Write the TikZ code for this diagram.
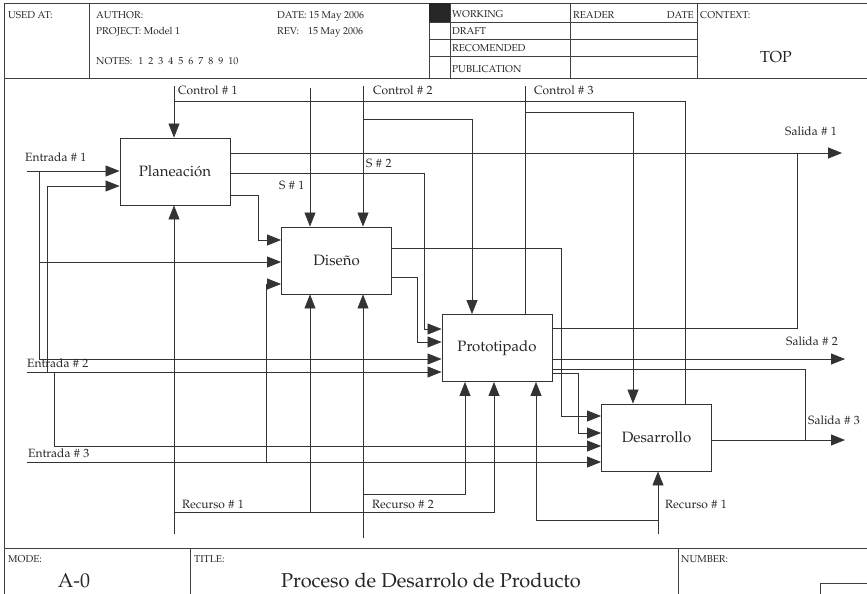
\documentclass[tikz,border=0pt]{standalone}
\usepackage[T1]{fontenc}
\usepackage{mathpazo}
\usetikzlibrary{arrows.meta}
\newcommand{\nro}{\hspace{3.5pt}\#\hspace{3.5pt}}
\begin{document}
\begin{tikzpicture}[x=1pt,y=-1pt,
  ln/.style={draw=black!80, line width=0.8pt},
  arr/.style={ln, -{Triangle[length=14pt,width=11pt]}},
  fr/.style={draw=black!75, line width=0.8pt},
  proc/.style={draw=black!80, line width=0.9pt, fill=white, minimum width=110pt, minimum height=67pt, font=\fontsize{15}{17}\selectfont, inner sep=0pt, text=black!85},
  hd/.style={font=\fontsize{10}{11}\selectfont, anchor=base west, inner sep=0pt, text=black!85},
  lb/.style={font=\fontsize{12}{14}\selectfont, anchor=base west, inner sep=0pt, text=black!85},
  big/.style={font=\fontsize{20}{23}\selectfont, anchor=base, inner sep=0pt, text=black!85},
]
\useasboundingbox (0,0) rectangle (867,594);
% frame
\draw[fr] (4,594) -- (4,3) -- (867,3);
\draw[fr] (4,78) -- (867,78);
\draw[fr] (4,548) -- (867,548);
\foreach \x in {89,429,450,570,697} \draw[fr] (\x,3) -- (\x,78);
\foreach \y in {22,39,56} \draw[fr] (429,\y) -- (697,\y);
\fill[black!85] (429,3) rectangle (450,22);
\foreach \x in {190,678} \draw[fr] (\x,548) -- (\x,594);
\draw[fr] (820,594) -- (820,583) -- (867,583);
% header text
\node[hd] (usedat) at (8,19) {USED AT:};
\node[hd] (author) at (96,19) {AUTHOR:};
\node[hd] (project) at (96,35) {PROJECT: Model 1};
\node[hd] (notes) at (96,65) {NOTES:\hspace{6pt}1\hspace{5pt}2\hspace{5pt}3\hspace{5pt}4\hspace{5pt}5\hspace{5pt}6\hspace{5pt}7\hspace{5pt}8\hspace{5pt}9\hspace{5pt}10};
\node[hd] (date) at (277,19) {DATE: 15 May 2006};
\node[hd] (rev) at (277,35) {REV:\hspace{9pt}15 May 2006};
\node[hd] (working) at (452,18) {WORKING};
\node[hd] (draft) at (452,35) {DRAFT};
\node[hd] (recom) at (452,52) {RECOMENDED};
\node[hd] (public) at (452,72) {PUBLICATION};
\node[hd] (reader) at (573,19) {READER};
\node[hd, anchor=base east] (rdate) at (694,19) {DATE};
\node[hd] (context) at (700,19) {CONTEXT:};
\node[big, font=\fontsize{16}{19}\selectfont] (top) at (776,63) {TOP};
% footer text
\node[hd] (mode) at (8,562) {MODE:};
\node[hd] (titlel) at (194,562) {TITLE:};
\node[hd] (number) at (681,562) {NUMBER:};
\node[big] (a0) at (74,587) {A-0};
\node[big] (title) at (431,587) {Proceso de Desarrolo de Producto};
% boxes
\node[proc] (P) at (175,171.5) {Planeación};
\node[proc] (D) at (336.5,260.5) {Diseño};
\node[proc] (T) at (497,348) {Prototipado};
\node[proc] (R) at (656.5,437.5) {Desarrollo};
% end points
\coordinate (e1) at (27,171);
\coordinate (e2) at (27,372);
\coordinate (e3) at (27,462);
\coordinate (c1) at (174,86);
\coordinate (c0) at (310,88);
\coordinate (c2) at (363,86);
\coordinate (c3) at (525,86);
\coordinate (m1) at (174,534);
\coordinate (m2) at (363,538);
\coordinate (m3) at (658,534);
\coordinate (s1) at (842,153);
\coordinate (s2) at (845,359);
\coordinate (s3) at (845,440);
% inputs
\draw[arr] (e1) -- (P.west |- e1);
\draw[arr] (39,171) -- (39,359) -- (T.west |- 0,359);
\draw[arr] (39,262) -- (D.west |- 0,262);
\draw[arr] (e2) -- (T.west |- e2);
\draw[arr] (47,372) -- (47,186) -- (P.west |- 0,186);
\draw[arr] (54,372) -- (54,446) -- (R.west |- 0,446);
\draw[arr] (e3) -- (R.west |- e3);
\draw[arr] (266,462) -- (266,284) -- (D.west |- 0,284);
% controls
\draw[arr] (c1) -- (c1 |- P.north);
\draw[ln] (174,101) -- (685,101) -- (R.north -| 685,0);
\draw[arr] (c0) -- (c0 |- D.north);
\draw[arr] (c2) -- (c2 |- D.north);
\draw[arr] (363,119) -- (472,119) -- (T.north -| 472,0);
\draw[ln] (c3) -- (c3 |- T.north);
\draw[arr] (525,112) -- (633,112) -- (R.north -| 633,0);
% outputs
\draw[arr] (P.east |- 0,153) -- (s1);
\draw[arr] (P.east |- 0,173) -- (424,173) -- (424,329) -- (T.west |- 0,329);
\draw[arr] (P.east |- 0,195) -- (258,195) -- (258,240) -- (D.west |- 0,240);
\draw[arr] (D.east |- 0,248) -- (561,248) -- (561,416) -- (R.west |- 0,416);
\draw[arr] (D.east |- 0,277) -- (417,277) -- (417,342) -- (T.west |- 0,342);
\draw[ln] (T.east |- 0,328) -- (797,328) -- (797,153);
\draw[arr] (T.east |- 0,359) -- (s2);
\draw[ln] (T.east |- 0,369) -- (805,369) -- (805,440);
\draw[arr] (T.east |- 0,373) -- (578,373) -- (578,433) -- (R.west |- 0,433);
\draw[arr] (R.east |- 0,440) -- (s3);
% mechanisms
\draw[arr] (m1) -- (m1 |- P.south);
\draw[arr] (174,512) -- (494,512) -- (T.south -| 494,0);
\draw[arr] (310,512) -- (D.south -| 310,0);
\draw[arr] (m2) -- (m2 |- D.south);
\draw[arr] (363,494) -- (465,494) -- (T.south -| 465,0);
\draw[arr] (m3) -- (m3 |- R.south);
\draw[arr] (658,520) -- (536,520) -- (T.south -| 536,0);
% labels
\node[lb] (le1) at (25,161) {Entrada\nro 1};
\node[lb] (le2) at (27,367) {Entrada\nro 2};
\node[lb] (le3) at (28,457) {Entrada\nro 3};
\node[lb] (lc1) at (178,94) {Control\nro 1};
\node[lb] (lc2) at (373,94) {Control\nro 2};
\node[lb] (lc3) at (534,94) {Control\nro 3};
\node[lb] (ls1) at (279,189) {S\nro 1};
\node[lb] (ls2) at (366,167) {S\nro 2};
\node[lb] (lo1) at (785,135) {Salida\nro 1};
\node[lb] (lo2) at (786,345) {Salida\nro 2};
\node[lb] (lo3) at (808,424) {Salida\nro 3};
\node[lb] (lm1) at (182,508) {Recurso\nro 1};
\node[lb] (lm2) at (372,508) {Recurso\nro 2};
\node[lb] (lm3) at (665,508) {Recurso\nro 1};
\end{tikzpicture}
\end{document}
